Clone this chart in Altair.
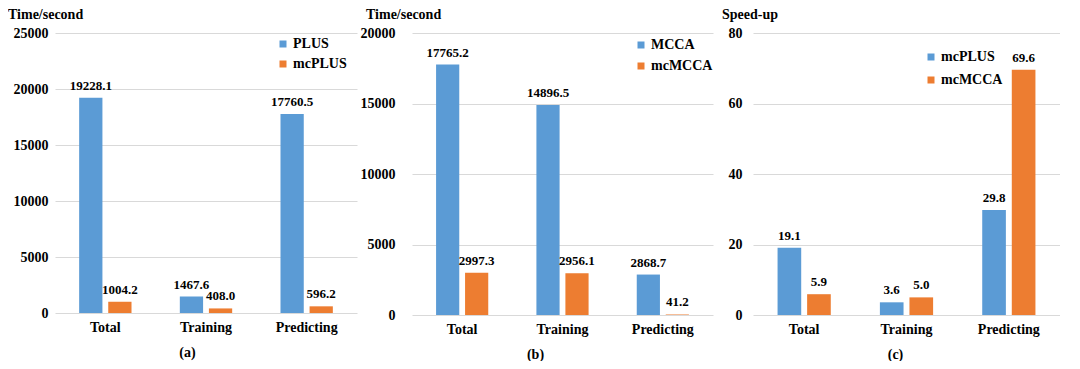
import altair as alt
import pandas as pd

categories = ["Total", "Training", "Predicting"]

series_a = ["PLUS", "mcPLUS"]
plus_time = [19228.1, 1467.6, 17760.5]
mcplus_time = [1004.2, 408.0, 596.2]

series_b = ["MCCA", "mcMCCA"]
mcca_time = [17765.2, 14896.5, 2868.7]
mcmcca_time = [2997.3, 2956.1, 41.2]

series_c = ["mcPLUS", "mcMCCA"]
speedup_mcplus = [19.1, 3.6, 29.8]
speedup_mcmcca = [5.9, 5.0, 69.6]

y_ticks_a = [0, 5000, 10000, 15000, 20000, 25000]
y_ticks_b = [0, 5000, 10000, 15000, 20000]
y_ticks_c = [0, 20, 40, 60, 80]

BLUE = "#5B9BD5"
ORANGE = "#ED7D31"
FONT = "'Liberation Serif', 'Times New Roman', serif"


def make_df(series, v1, v2):
    rows = []
    for c, a, b in zip(categories, v1, v2):
        rows.append({"cat": c, "series": series[0], "value": a})
        rows.append({"cat": c, "series": series[1], "value": b})
    return pd.DataFrame(rows)


def panel(df, series, ticks, ytitle, xtitle, width, height, ext, lpad,
          xtitle_x, legx, legy, rowpad, tdx):
    xscale = alt.Scale(paddingInner=0.48, paddingOuter=0.24)
    xaxis = alt.Axis(title=xtitle, labelAngle=0, domain=False, ticks=False,
                     tickSize=0, labelPadding=7, labelFontSize=14,
                     labelFont=FONT, labelFontWeight="bold", labelColor="black",
                     titleFont=FONT, titleFontSize=14, titleFontWeight="bold",
                     titleColor="black", titlePadding=11, titleX=xtitle_x,
                     titleAlign="center", grid=False)
    yaxis = alt.Axis(title=None, values=ticks, format="d", grid=True,
                     gridColor="#d9d9d9", gridWidth=1, domain=False,
                     ticks=False, tickSize=0, labelPadding=lpad,
                     minExtent=ext, labelFontSize=14, labelFont=FONT,
                     labelFontWeight="bold", labelColor="black")
    legend = alt.Legend(title=None, orient="none", legendX=legx, legendY=legy,
                        symbolType="square", symbolSize=49,
                        symbolStrokeWidth=0, labelFontSize=14, labelFont=FONT,
                        labelFontWeight="bold", labelColor="black",
                        rowPadding=rowpad, padding=0, labelOffset=3)
    xo_scale = alt.Scale(paddingInner=0.2, paddingOuter=0)
    bars = alt.Chart(df).mark_bar().encode(
        x=alt.X("cat:N", sort=categories, scale=xscale, axis=xaxis),
        xOffset=alt.XOffset("series:N", sort=series, scale=xo_scale),
        y=alt.Y("value:Q", scale=alt.Scale(domain=[ticks[0], ticks[-1]],
                                           nice=False), axis=yaxis),
        color=alt.Color("series:N", sort=series,
                        scale=alt.Scale(domain=series, range=[BLUE, ORANGE]),
                        legend=legend),
    )
    text = alt.Chart(df).mark_text(
        baseline="bottom", dy=-5, font=FONT, fontSize=13, fontWeight="bold",
        color="black"
    ).encode(
        x=alt.X("cat:N", sort=categories),
        xOffset=alt.XOffset("series:N", sort=series),
        y=alt.Y("value:Q"),
        text=alt.Text("value:Q", format=".1f"),
    )
    return alt.layer(bars, text).properties(
        width=width, height=height,
        title=alt.TitleParams(ytitle, anchor="start", frame="bounds",
                              font=FONT, fontSize=14, fontWeight="bold",
                              color="black", offset=4, dx=tdx),
    )


pa = panel(make_df(series_a, plus_time, mcplus_time), series_a, y_ticks_a,
           "Time/second", "(a)", 302, 280, 47, 7, 132, 221, 4, 6, 0)
pb = panel(make_df(series_b, mcca_time, mcmcca_time), series_b,
           y_ticks_b, "Time/second", "(b)", 301, 282, 52, 17, 123, 222, 5, 7, 6)
pc = panel(make_df(series_c, speedup_mcplus, speedup_mcmcca), series_c,
           y_ticks_c, "Speed-up", "(c)", 307, 282, 37, 11, 142, 171, 17, 9, 6)

chart = alt.hconcat(pa, pb, pc, spacing=3).resolve_scale(
    color="independent", x="independent", y="independent",
    xOffset="independent"
).resolve_legend(color="independent").properties(
    padding={"left": 0, "top": 0, "right": 0, "bottom": 0}
).configure_view(stroke=None)

chart.save("out.html", embed_options={"renderer": "svg", "actions": False})
